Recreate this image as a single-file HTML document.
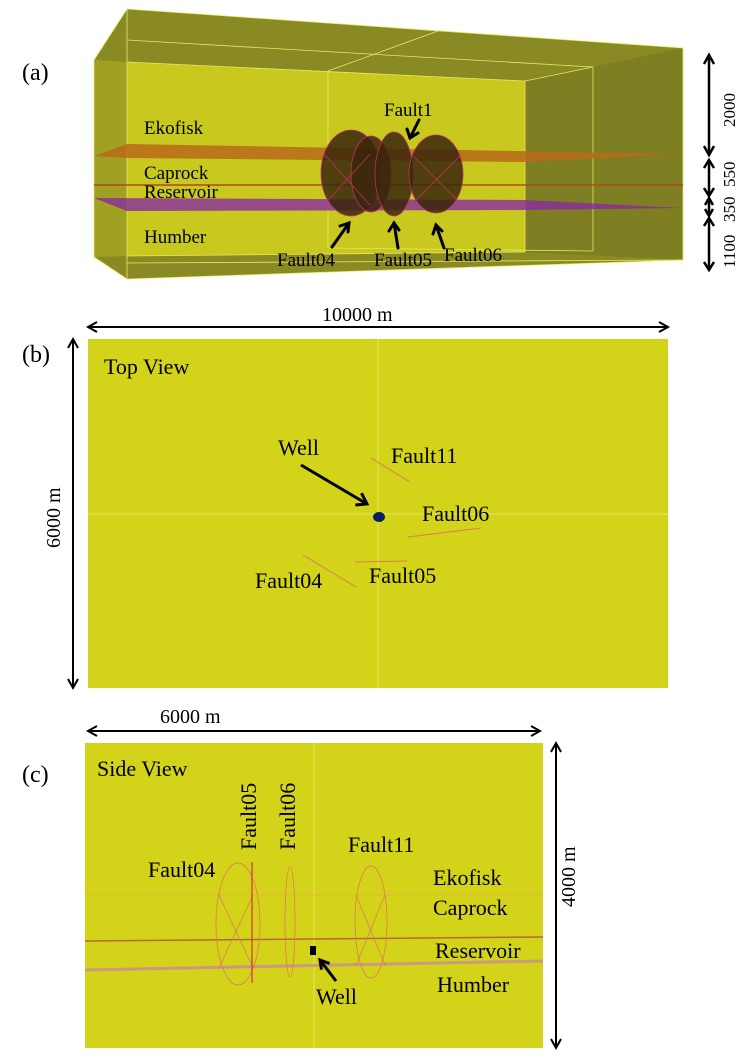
<!DOCTYPE html>
<html><head><meta charset="utf-8"><style>
html,body{margin:0;padding:0;background:#fff;}
svg{display:block;}
text{font-family:"Liberation Serif",serif;fill:#000;}
</style></head><body>
<svg width="745" height="1060" viewBox="0 0 745 1060" xmlns="http://www.w3.org/2000/svg">

<!-- Panel (a) -->
<text x="22" y="80" font-size="24">(a)</text>
<polygon points="94,60 127,9 683,48 683,260 127,279 94,257" fill="#8a8a24"/>
<polygon points="127,62 525,81 525,252 127,256" fill="#c8c81e"/>
<polygon points="525,81 683,48 683,260 525,252" fill="#7e7e22"/>
<polygon points="94,60 127,62 127,256 94,257" fill="#a0a022"/>
<g stroke="#e8e860" stroke-width="0.8" fill="none">
<polyline points="94,60 127,9 683,48 683,260 127,279 94,257 94,60"/>
<line x1="127" y1="9" x2="127" y2="279"/>
<line x1="127" y1="40" x2="593" y2="67"/>
<line x1="328" y1="71" x2="438" y2="31"/>
<line x1="127" y1="62" x2="525" y2="81"/>
<line x1="525" y1="81" x2="593" y2="67"/>
<line x1="525" y1="81" x2="525" y2="252"/>
<line x1="593" y1="67" x2="593" y2="251"/>
<line x1="328" y1="71" x2="328" y2="248"/>
<line x1="127" y1="256" x2="525" y2="252"/>
<line x1="127" y1="263" x2="683" y2="260"/>
<line x1="328" y1="248" x2="593" y2="251"/>
</g>
<polygon points="127,144 683,154 525,162 127,158 94,156" fill="#b86a1a" opacity="0.85"/>
<line x1="94" y1="185" x2="683" y2="185" stroke="#b04a1a" stroke-width="1.5"/>
<polygon points="94,198 525,200 683,208 525,210 127,211" fill="#8a2aa0" opacity="0.8"/>
<g fill="#3a260c" fill-opacity="0.85" stroke="#c0306a" stroke-width="0.8">
<ellipse cx="351" cy="173" rx="30" ry="43"/>
<ellipse cx="371" cy="174" rx="20" ry="38"/>
<ellipse cx="394" cy="174" rx="19" ry="42"/>
<ellipse cx="436" cy="174" rx="27" ry="39"/>
</g>
<g stroke="#d03060" stroke-width="0.6"><line x1="324" y1="154" x2="370" y2="205"/><line x1="370" y1="154" x2="324" y2="205"/><line x1="413" y1="156" x2="460" y2="203"/><line x1="460" y1="156" x2="413" y2="203"/></g>
<g font-size="19">
<text x="144" y="134">Ekofisk</text>
<text x="144" y="179">Caprock</text>
<text x="144" y="198">Reservoir</text>
<text x="144" y="243">Humber</text>
<text x="384" y="116">Fault1</text>
<text x="277" y="266">Fault04</text>
<text x="374" y="266">Fault05</text>
<text x="444" y="261">Fault06</text>
</g>
<g stroke="#000" stroke-width="3" fill="none" stroke-linecap="round">
<line x1="332" y1="247" x2="349" y2="223"/><polyline points="340,226 349,223 348,232"/>
<line x1="398" y1="248" x2="394" y2="223"/><polyline points="389,231 394,223 399,230"/>
<line x1="444" y1="248" x2="436" y2="225"/><polyline points="433,234 436,225 442,231"/>
<line x1="419" y1="120" x2="410" y2="138"/><polyline points="407,129 410,138 418,133"/>
</g>
<g stroke="#000" stroke-width="2.5" fill="none">
<line x1="709" y1="55" x2="709" y2="155"/><polyline points="704,64 709,55 714,64"/><polyline points="704,146 709,155 714,146"/>
<line x1="709" y1="160" x2="709" y2="196"/><polyline points="704,168 709,160 714,168"/><polyline points="704,188 709,196 714,188"/>
<line x1="709" y1="198" x2="709" y2="216"/><polyline points="705,205 709,198 713,205"/><polyline points="705,209 709,216 713,209"/>
<line x1="709" y1="218" x2="709" y2="270"/><polyline points="704,226 709,218 714,226"/><polyline points="704,262 709,270 714,262"/>
</g>
<g font-size="17">
<text transform="translate(735,127) rotate(-90)">2000</text>
<text transform="translate(735,187) rotate(-90)">550</text>
<text transform="translate(735,222) rotate(-90)">350</text>
<text transform="translate(735,268) rotate(-90)">1100</text>
</g>

<!-- Panel (b) -->
<text x="22" y="362" font-size="24">(b)</text>
<text x="322" y="321" font-size="20">10000 m</text>
<g stroke="#000" stroke-width="2" fill="none">
<line x1="88" y1="327" x2="668" y2="327"/><polyline points="97,322 88,327 97,332"/><polyline points="659,322 668,327 659,332"/>
<line x1="73" y1="339" x2="73" y2="688"/><polyline points="68,348 73,339 78,348"/><polyline points="68,679 73,688 78,679"/>
</g>
<text transform="translate(60,548) rotate(-90)" font-size="20">6000 m</text>
<rect x="88" y="339" width="580" height="349" fill="#d3d31a"/>
<line x1="378" y1="339" x2="378" y2="688" stroke="#eaea70" stroke-width="0.8"/>
<line x1="88" y1="514" x2="668" y2="514" stroke="#eaea70" stroke-width="0.8"/>
<g font-size="22">
<text x="104" y="374">Top View</text>
<text x="278" y="455">Well</text>
<text x="391" y="463">Fault11</text>
<text x="422" y="521">Fault06</text>
<text x="369" y="583">Fault05</text>
<text x="255" y="588">Fault04</text>
</g>
<g stroke="#000" stroke-width="3" fill="none">
<line x1="301" y1="465" x2="367" y2="504"/><polyline points="355.3,505 367,504 361.5,493.2"/>
</g>
<ellipse cx="379" cy="517" rx="6" ry="5" fill="#0a2060"/>
<g stroke="#e07a50" stroke-width="1"><line x1="371" y1="458" x2="410" y2="482"/><line x1="408" y1="537" x2="481" y2="528"/><line x1="355" y1="562" x2="407" y2="561"/><line x1="303" y1="555" x2="356" y2="587"/></g>

<!-- Panel (c) -->
<text x="22" y="782" font-size="24">(c)</text>
<text x="160" y="723" font-size="20">6000 m</text>
<g stroke="#000" stroke-width="2" fill="none">
<line x1="88" y1="731" x2="540" y2="731"/><polyline points="97,726 88,731 97,736"/><polyline points="531,726 540,731 531,736"/>
<line x1="556" y1="743" x2="556" y2="1048"/><polyline points="551,752 556,743 561,752"/><polyline points="551,1039 556,1048 561,1039"/>
</g>
<rect x="85" y="743" width="458" height="305" fill="#d3d31a"/>
<line x1="314" y1="743" x2="314" y2="1048" stroke="#eaea70" stroke-width="0.8"/>
<text transform="translate(575,907) rotate(-90)" font-size="20">4000 m</text>
<line x1="85" y1="895" x2="543" y2="895" stroke="#f0a040" stroke-width="0.6"/>
<line x1="85" y1="941" x2="543" y2="937" stroke="#b86a30" stroke-width="1.5"/>
<line x1="85" y1="970" x2="543" y2="961" stroke="#c89a80" stroke-width="3"/>
<g fill="none" stroke="#e07060" stroke-width="0.7">
<ellipse cx="238" cy="924" rx="22" ry="61"/>
<ellipse cx="290" cy="922" rx="5" ry="55"/>
<ellipse cx="371" cy="922" rx="16" ry="56"/>
<line x1="219" y1="895" x2="253" y2="968"/><line x1="253" y1="895" x2="219" y2="968"/>
<line x1="356" y1="895" x2="385" y2="965"/><line x1="385" y1="895" x2="356" y2="965"/>
</g>
<line x1="252" y1="862" x2="252" y2="983" stroke="#e03040" stroke-width="1.2"/>
<g font-size="22">
<text x="97" y="776">Side View</text>
<text x="148" y="877">Fault04</text>
<text transform="translate(256,850) rotate(-90)">Fault05</text>
<text transform="translate(295,850) rotate(-90)">Fault06</text>
<text x="348" y="852">Fault11</text>
<text x="433" y="885">Ekofisk</text>
<text x="433" y="915">Caprock</text>
<text x="435" y="958">Reservoir</text>
<text x="437" y="992">Humber</text>
<text x="316" y="1004">Well</text>
</g>
<rect x="310" y="946" width="6" height="9" fill="#000"/>
<g stroke="#000" stroke-width="3" fill="none">
<line x1="336" y1="981" x2="320" y2="960"/><polyline points="329.5,963.5 320,960 321.5,969.6"/>
</g>
</svg>
</body></html>
